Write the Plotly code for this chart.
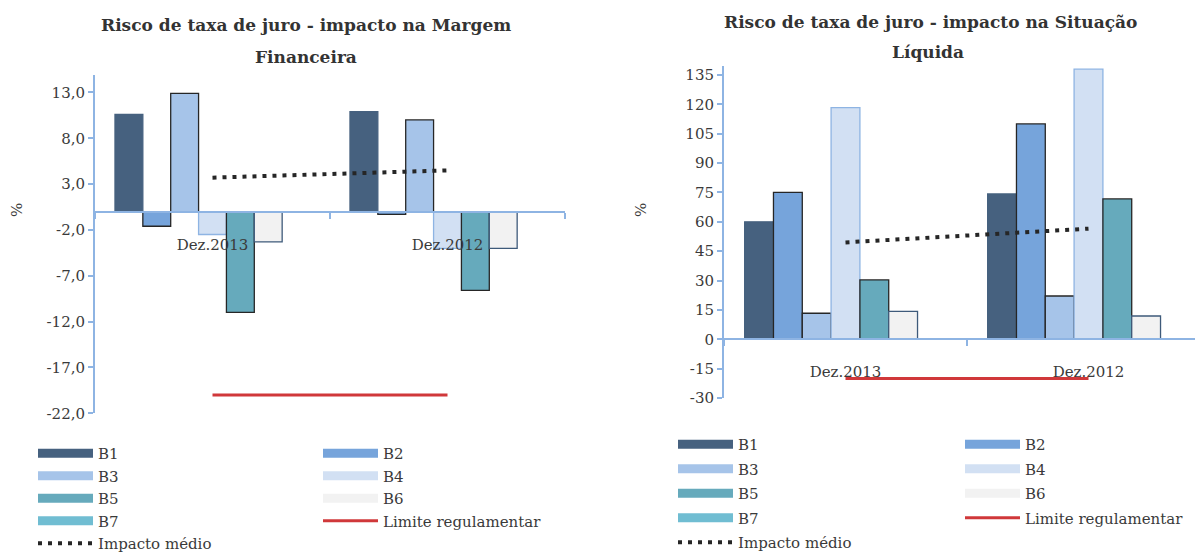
import plotly.graph_objects as go

# ---------------- data ----------------
categories = ["Dez.2013", "Dez.2012"]
series_names = ["B1", "B2", "B3", "B4", "B5", "B6", "B7"]

# Risco de taxa de juro - impacto na Margem Financeira (%)
mf_b1 = [10.6, 10.9]
mf_b2 = [-1.6, -0.3]
mf_b3 = [12.9, 10.0]
mf_b4 = [-2.5, -4.0]
mf_b5 = [-11.0, -8.6]
mf_b6 = [-3.3, -4.0]
mf_b7 = [None, None]
mf_media = [3.7, 4.5]
mf_limite = [-20, -20]
mf_tickvals = [-22, -17, -12, -7, -2, 3, 8, 13]
mf_ticktext = ["-22,0", "-17,0", "-12,0", "-7,0", "-2,0", "3,0", "8,0", "13,0"]

# Risco de taxa de juro - impacto na Situação Líquida (%)
sl_b1 = [60.0, 74.2]
sl_b2 = [75.0, 110.0]
sl_b3 = [13.3, 22.1]
sl_b4 = [118.3, 138.0]
sl_b5 = [30.3, 71.7]
sl_b6 = [14.3, 11.9]
sl_b7 = [None, None]
sl_media = [49.5, 56.5]
sl_limite = [-20, -20]
sl_tickvals = [-30, -15, 0, 15, 30, 45, 60, 75, 90, 105, 120, 135]
sl_ticktext = ["-30", "-15", "0", "15", "30", "45", "60", "75", "90", "105", "120", "135"]

# ---------------- styles ----------------
W, H = 1195, 552
FONT = "DejaVu Serif"
TXT = "#3a3a3a"
AXC = "#8EB4E3"
fills = ["#46617F", "#76A4DB", "#A6C4E9", "#D2E0F3", "#66AABC", "#F2F2F2", "#70BDD2"]
borders = ["#46617F", "#262626", "#262626", "#8EB4E3", "#262626", "#3E5A7A", "#262626"]
RED = "#D0383A"
DOT = "#262626"

mf_series = [mf_b1, mf_b2, mf_b3, mf_b4, mf_b5, mf_b6, mf_b7]
sl_series = [sl_b1, sl_b2, sl_b3, sl_b4, sl_b5, sl_b6, sl_b7]

# subplot geometry (pixels -> paper fractions)
left_xd = [95 / W, 565 / W]
left_yd = [1 - 413.3 / H, 1 - 75 / H]
left_yr = [-22, 14.9]
right_xd = [724 / W, 1.0]
right_yd = [1 - 398 / H, 1 - 66 / H]
right_yr = [-30, 139.6]
right_xr = [-0.5, (W - 724) / 243 - 0.5]


def zero_pos(yd, yr):
    return yd[0] + (0 - yr[0]) / (yr[1] - yr[0]) * (yd[1] - yd[0])


fig = go.Figure()

# legend entries (column layout: odd series on col 1, even series on col 2)
legend_cols = {
    "left": ("legend", "legend2"),
    "right": ("legend3", "legend4"),
}
for side, xa, ya in (("left", "x", "y"), ("right", "x2", "y2")):
    c1, c2 = legend_cols[side]
    for i, name in enumerate(series_names):
        fig.add_trace(go.Scatter(
            x=[None], y=[None], mode="lines", name=name,
            line=dict(color=fills[i], width=9),
            legend=c1 if i % 2 == 0 else c2,
            legendgroup=side + name,
            xaxis=xa, yaxis=ya, hoverinfo="skip",
        ))

# bars
for side, series, xa, ya in (("left", mf_series, "x", "y"), ("right", sl_series, "x2", "y2")):
    for i, name in enumerate(series_names):
        fig.add_trace(go.Bar(
            x=categories, y=series[i], name=name,
            marker=dict(color=fills[i], line=dict(color=borders[i], width=1.3)),
            showlegend=False, xaxis=xa, yaxis=ya, offsetgroup=str(i),
        ))

# lines
for side, lim, med, xa, ya in (("left", mf_limite, mf_media, "x", "y"),
                               ("right", sl_limite, sl_media, "x2", "y2")):
    c1, c2 = legend_cols[side]
    fig.add_trace(go.Scatter(
        x=categories, y=lim, mode="lines", name="Limite regulamentar",
        line=dict(color=RED, width=3), legend=c2, legendgroup=side + "lim",
        xaxis=xa, yaxis=ya,
    ))
    fig.add_trace(go.Scatter(
        x=categories, y=med, mode="lines", name="Impacto médio",
        line=dict(color=DOT, width=4, dash="4px,6px"), legend=c1, legendgroup=side + "med",
        xaxis=xa, yaxis=ya,
    ))

tickfont = dict(family=FONT, size=15, color=TXT)


def xaxis_cfg(domain, yd, yr, anchor_y, rng=None):
    d = dict(
        domain=domain, anchor="free", position=zero_pos(yd, yr),
        type="category", tickson="boundaries", ticks="outside", ticklen=6,
        tickcolor=AXC, tickwidth=1.5, showline=True, linecolor=AXC, linewidth=2,
        showgrid=False, zeroline=False, tickfont=tickfont, ticklabelstandoff=19,
        automargin=False, fixedrange=True,
    )
    d["range"] = rng if rng is not None else [-0.5, 1.5]
    return d


def yaxis_cfg(domain, yr, tv, tt, anchor_x):
    return dict(
        domain=domain, range=yr, anchor=anchor_x, tickvals=tv, ticktext=tt,
        ticks="outside", ticklen=5, tickcolor=AXC, tickwidth=1.5,
        showline=True, linecolor=AXC, linewidth=2, showgrid=False, zeroline=False,
        tickfont=tickfont, automargin=False, fixedrange=True,
    )


leg_common = dict(
    orientation="v", bgcolor="rgba(0,0,0,0)", borderwidth=0,
    font=dict(family=FONT, size=15, color=TXT), itemwidth=55,
    xanchor="left", yanchor="top", traceorder="grouped", itemclick=False,
)

fig.update_layout(
    width=W, height=H,
    margin=dict(l=0, r=0, t=0, b=0, autoexpand=False),
    paper_bgcolor="white", plot_bgcolor="white",
    barmode="group", bargap=0.17, bargroupgap=0,
    font=dict(family=FONT, color=TXT),
    xaxis=xaxis_cfg(left_xd, left_yd, left_yr, "y"),
    yaxis=yaxis_cfg(left_yd, left_yr, mf_tickvals, mf_ticktext, "x"),
    xaxis2=xaxis_cfg(right_xd, right_yd, right_yr, "y2", right_xr),
    yaxis2=yaxis_cfg(right_yd, right_yr, sl_tickvals, sl_ticktext, "x2"),
    legend=dict(leg_common, x=33 / W, y=1 - 437 / H, tracegroupgap=0),
    legend2=dict(leg_common, x=318 / W, y=1 - 437 / H, tracegroupgap=0),
    legend3=dict(leg_common, x=673 / W, y=1 - 428 / H, tracegroupgap=2),
    legend4=dict(leg_common, x=960 / W, y=1 - 428 / H, tracegroupgap=2),
    showlegend=True,
)

title_font = dict(family=FONT, size=17, color="#333333")
annos = [
    dict(text="<b>Risco de taxa de juro - impacto na Margem</b>", x=306 / W, y=1 - 25 / H),
    dict(text="<b>Financeira</b>", x=306 / W, y=1 - 57 / H),
    dict(text="<b>Risco de taxa de juro - impacto na Situação</b>", x=930 / W, y=1 - 22 / H),
    dict(text="<b>Líquida</b>", x=928 / W, y=1 - 52 / H),
]
for a in annos:
    fig.add_annotation(xref="paper", yref="paper", showarrow=False,
                       xanchor="center", yanchor="middle", font=title_font, **a)
for xp in (17 / W, 641 / W):
    fig.add_annotation(text="%", xref="paper", yref="paper", x=xp, y=1 - 210 / H,
                       showarrow=False, textangle=-90, xanchor="center", yanchor="middle",
                       font=dict(family=FONT, size=15, color=TXT))

fig.write_html(
    "out.html",
    config={"displayModeBar": False},
    post_script="document.body.style.margin='0px';document.body.style.overflow='hidden';",
)
